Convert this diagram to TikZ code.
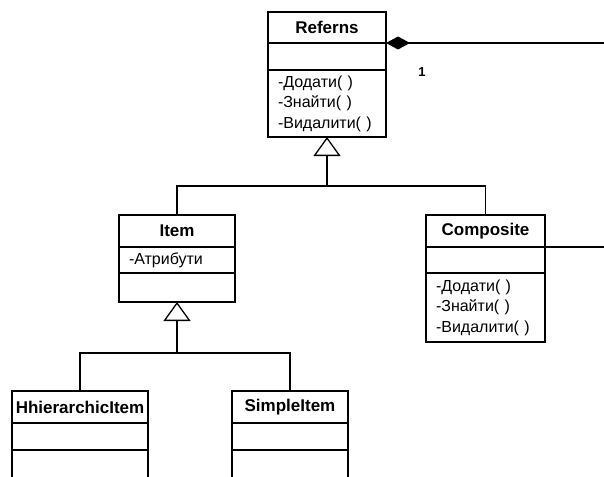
\documentclass[tikz,border=0pt]{standalone}
\usepackage{fontspec}
\setmainfont{Liberation Sans}
\usetikzlibrary{arrows.meta}
\tikzset{
  comp/.style={draw, line width=1.3pt, anchor=north west, inner sep=0pt, outer sep=0pt},
  ttl/.style={comp, font=\fontsize{17}{20}\selectfont\bfseries},
  emp/.style={comp},
  mth/.style={comp, font=\fontsize{16}{20.5}\selectfont, align=left, inner xsep=10pt, text width=#1},
  link/.style={line width=1.8pt},
  gen/.style={link, -{Triangle[open, length=19pt, width=27pt, line width=1.3pt]}},
  agg/.style={line width=1.5pt, -{Diamond[length=24pt, width=13pt]}},
}
\begin{document}
\begin{tikzpicture}[x=1pt, y=-1pt]
\useasboundingbox (0,0) rectangle (604,476);
% Referns
\node[ttl, minimum width=118, minimum height=31] (reft) at (268,12) {Referns};
\node[emp, minimum width=118, minimum height=27] (refa) at (268,43) {};
\node[mth=98pt, minimum height=67] (refm) at (268,70) {-Додати( )\\-Знайти( )\\-Видалити( )};
% Item
\node[ttl, minimum width=116, minimum height=32] (itemt) at (119,215) {Item};
\node[mth=96pt, minimum height=26] (itema) at (119,247) {-Атрибути};
\node[emp, minimum width=116, minimum height=29] (itemm) at (119,273) {};
% Composite
\node[ttl, minimum width=119, minimum height=32] (compt) at (426,215) {Composite};
\node[emp, minimum width=119, minimum height=26] (compa) at (426,247) {};
\node[mth=99pt, minimum height=69] (compm) at (426,273) {-Додати( )\\-Знайти( )\\-Видалити( )};
% HhierarchicItem
\node[ttl, minimum width=136, minimum height=32] (hiert) at (12,391) {HhierarchicItem};
\node[emp, minimum width=136, minimum height=27] (hiera) at (12,423) {};
\node[emp, minimum width=136, minimum height=40] (hierm) at (12,450) {};
% SimpleItem
\node[ttl, minimum width=116, minimum height=32] (simt) at (232,391) {SimpleItem};
\node[emp, minimum width=116, minimum height=27] (sima) at (232,423) {};
\node[emp, minimum width=116, minimum height=40] (simm) at (232,450) {};
% generalization: Item, Composite -> Referns
\coordinate (j1) at (327,186);
\draw[link] (itemt.north) |- (j1);
\draw[link] (compt.north) |- (j1);
\draw[gen] (j1) -- (refm.south);
% generalization: HhierarchicItem, SimpleItem -> Item
\coordinate (j2) at (177,353);
\draw[link] (hiert.north) |- (j2);
\draw[link] (simt.north) |- (j2);
\draw[gen] (j2) -- (itemm.south);
% composition
\coordinate (e1) at (604,43);
\draw[agg] (e1) -- (reft.south east);
\node[font=\fontsize{13}{15}\selectfont\bfseries] (one) at (422,72) {1};
\coordinate (e2) at (604,247);
\draw[line width=1.5pt] (compa.north east) -- (e2);
\end{tikzpicture}
\end{document}
